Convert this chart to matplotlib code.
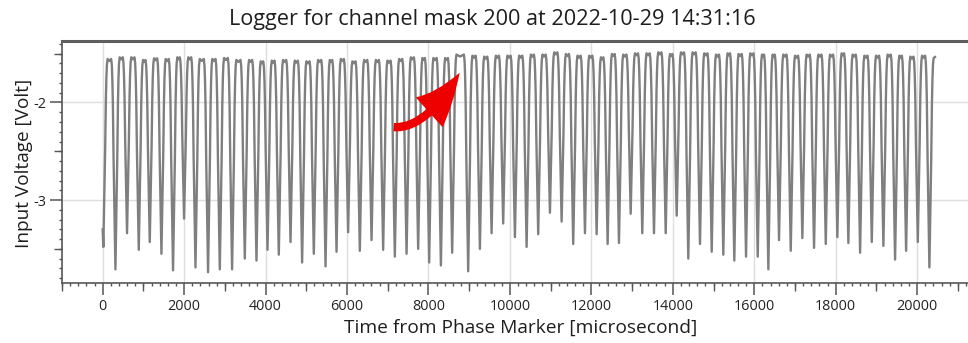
import numpy as np
import matplotlib.pyplot as plt
from matplotlib.ticker import MultipleLocator, FixedLocator
from matplotlib.patches import FancyArrowPatch

plt.rcParams['font.family'] = ['Open Sans', 'DejaVu Sans']
plt.rcParams['axes.unicode_minus'] = False

# Logger samples: start of the record, the bottom of every pulse dip and the
# level of the plateau that follows it (microsecond / volt)
start_times = [0, 15]
start_volts = [-3.30, -3.48]

trough_times = [
    312, 597, 885, 1155, 1442, 1727, 1998, 2278, 2587, 2875,
    3177, 3489, 3776, 4047, 4324, 4612, 4897, 5184, 5472, 5742,
    6027, 6314, 6602, 6887, 7174, 7462, 7747, 8017, 8305, 8582,
    8975, 9263, 9550, 9835, 10123, 10410, 10695, 10983, 11270, 11555,
    11843, 12130, 12400, 12678, 12966, 13251, 13538, 13826, 14096, 14381,
    14668, 14956, 15241, 15511, 15799, 16086, 16347, 16609, 16897, 17182,
    17469, 17757, 18042, 18312, 18600, 18887, 19172, 19459, 19730, 20017,
    20302]
trough_volts = [
    -3.71, -3.34, -3.51, -3.43, -3.55, -3.72, -3.19, -3.69, -3.74, -3.71,
    -3.71, -3.60, -3.62, -3.51, -3.56, -3.43, -3.64, -3.55, -3.68, -3.53,
    -3.33, -3.52, -3.41, -3.51, -3.58, -3.55, -3.50, -3.64, -3.67, -3.54,
    -3.73, -3.50, -3.34, -3.24, -3.38, -3.48, -3.35, -3.13, -3.22, -3.45,
    -3.34, -3.35, -3.45, -3.44, -3.14, -3.34, -3.34, -3.34, -3.16, -3.60,
    -3.45, -3.53, -3.56, -3.62, -3.58, -3.58, -3.71, -3.41, -3.52, -3.39,
    -3.49, -3.45, -3.38, -3.44, -3.54, -3.43, -3.47, -3.61, -3.52, -3.43,
    -3.69]
# plateau before the first dip, then one after every dip
plateau_volts = [
    -1.554, -1.537, -1.537, -1.564, -1.547, -1.554, -1.537, -1.537, -1.554, -1.554,
    -1.544, -1.564, -1.564, -1.578, -1.571, -1.564, -1.571, -1.578, -1.564, -1.564,
    -1.554, -1.578, -1.564, -1.564, -1.571, -1.554, -1.537, -1.544, -1.544, -1.544,
    -1.509, -1.520, -1.530, -1.520, -1.520, -1.520, -1.509, -1.509, -1.486, -1.503,
    -1.520, -1.520, -1.537, -1.503, -1.509, -1.496, -1.496, -1.486, -1.503, -1.486,
    -1.486, -1.496, -1.509, -1.496, -1.503, -1.496, -1.509, -1.509, -1.509, -1.520,
    -1.509, -1.509, -1.509, -1.496, -1.509, -1.520, -1.520, -1.509, -1.520, -1.530,
    -1.520, -1.544]
end_time = 20440

x_ticks = [0, 2000, 4000, 6000, 8000, 10000, 12000, 14000, 16000, 18000, 20000]
y_ticks = [-3, -2]

# shape of a pulse edge: (microseconds from the dip, fraction of the swing)
EDGE = [(0, 0.0), (45, 0.52), (62, 0.78), (75, 0.90), (88, 0.97), (105, 1.0)]
NOTCH = 0.02


def rising(t0, low, top):
    return [(t0 + dt, low + f * (top - low)) for dt, f in EDGE[1:]]


def falling(t1, low, top):
    return [(t1 - dt, low + f * (top - low)) for dt, f in reversed(EDGE[1:])]


def build_trace():
    pts = list(zip(start_times, start_volts))
    prev_t, prev_v = start_times[-1], start_volts[-1]
    for i, (tt, tv) in enumerate(zip(trough_times, trough_volts)):
        top = plateau_volts[i]
        pts += rising(prev_t, prev_v, top)
        pts.append(((prev_t + tt) / 2.0, top - NOTCH))
        pts += falling(tt, tv, top)
        pts.append((tt, tv))
        prev_t, prev_v = tt, tv
    top = plateau_volts[-1]
    pts += rising(prev_t, prev_v, top)
    pts.append((end_time, top + 0.01))
    pts = np.array(pts)
    return pts[:, 0], pts[:, 1]


t, v = build_trace()

fig = plt.figure(figsize=(9.68, 3.43), dpi=100)
ax = fig.add_axes([62 / 968, 60 / 343, 906 / 968, 242 / 343])

ax.plot(t, v, color='#7f7f7f', lw=1.7, solid_joinstyle='round', zorder=3)

ax.set_xlim(-1000, 21250)
ax.set_ylim(-3.85, -1.37)

ax.xaxis.set_major_locator(FixedLocator(x_ticks))
ax.yaxis.set_major_locator(FixedLocator(y_ticks))
ax.xaxis.set_minor_locator(MultipleLocator(200))
ax.yaxis.set_minor_locator(MultipleLocator(0.1))
ax.grid(True, which='major', color='#dedede', lw=1.0, zorder=0)

ax.tick_params(which='major', length=8.5, width=1.1, color='#555555',
               labelsize=10.4, labelcolor='#222222', pad=3)
ax.tick_params(which='minor', length=2.5, width=1.0, color='#555555')

# mid ticks at every 1000 us and every half volt
sec_x = ax.secondary_xaxis('bottom')
sec_x.set_xticks([-1000, 1000, 3000, 5000, 7000, 9000, 11000, 13000,
                  15000, 17000, 19000, 21000])
sec_x.tick_params(length=5.5, width=1.0, color='#555555', labelbottom=False)
sec_x.spines['bottom'].set_visible(False)
sec_y = ax.secondary_yaxis('left')
sec_y.set_yticks([-3.5, -2.5, -1.5])
sec_y.tick_params(length=5.5, width=1.0, color='#555555', labelleft=False)
sec_y.spines['left'].set_visible(False)

for side in ['left', 'bottom']:
    ax.spines[side].set_color('#555555')
    ax.spines[side].set_linewidth(1.2)
ax.spines['top'].set_color('#5e5e5e')
ax.spines['top'].set_linewidth(2.2)
ax.spines['right'].set_visible(False)

fig.text(492 / 968, 1 - 19 / 343,
         'Logger for channel mask 200 at 2022-10-29 14:31:16',
         ha='center', va='center', fontsize=15.6, color='#1e1e1e')
fig.text(521 / 968, 1 - 328 / 343, 'Time from Phase Marker [microsecond]',
         ha='center', va='center', fontsize=13.8, color='#1e1e1e')
fig.text(24 / 968, 1 - 163 / 343, 'Input Voltage [Volt]', rotation=90,
         ha='center', va='center', fontsize=13.7, color='#1e1e1e')

# red arrow pointing at the phase marker pulse
arrow = FancyArrowPatch((7080, -2.25), (8800, -1.67),
                        connectionstyle='angle3,angleA=-8,angleB=60',
                        arrowstyle='simple,head_length=3.6,head_width=2.9,tail_width=0.6',
                        mutation_scale=10, color='#ee0000', lw=0, zorder=5)
ax.add_patch(arrow)

fig.savefig('out.png', dpi=100)
